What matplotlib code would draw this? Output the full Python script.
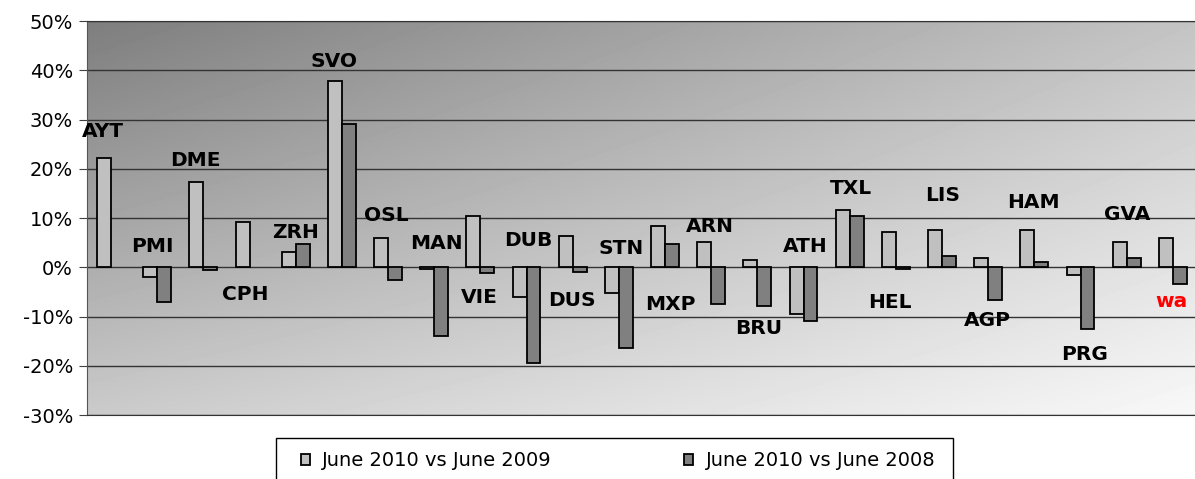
import numpy as np
import matplotlib.pyplot as plt
from matplotlib.patches import Rectangle
from matplotlib.ticker import FuncFormatter

airports = ['AYT', 'PMI', 'DME', 'CPH', 'ZRH', 'SVO', 'OSL', 'MAN', 'VIE', 'DUB', 'DUS', 'STN',
            'MXP', 'ARN', 'BRU', 'ATH', 'TXL', 'HEL', 'LIS', 'AGP', 'HAM', 'PRG', 'GVA', 'wa']
vs2009 = [22.1, -2.0, 17.3, 9.2, 3.1, 37.9, 5.9, -0.3, 10.4, -6.1, 6.3, -5.3,
          8.4, 5.1, 1.5, -9.5, 11.6, 7.2, 7.5, 1.9, 7.5, -1.6, 5.2, 6.0]
vs2008 = [np.nan, -7.0, -0.5, np.nan, 4.7, 29.0, -2.6, -13.9, -1.2, -19.5, -0.9, -16.3,
          4.7, -7.5, -7.8, -11.0, 10.4, -0.3, 2.3, -6.6, 1.1, -12.6, 1.9, -3.4]
labels_2009 = 'June 2010 vs June 2009'
labels_2008 = 'June 2010 vs June 2008'

# manual label placement (category x, y in %)
label_x = [-0.15, 0.92, 1.84, 2.93, 4.02, 4.84, 5.98, 7.07, 8.0, 9.05, 10.0, 11.07,
           12.13, 12.99, 14.05, 15.05, 16.04, 16.89, 18.04, 19.01, 20.01, 21.1, 22.03, 23.0]
label_y = [27.5, 4.2, 21.6, -5.6, 7.1, 41.7, 10.6, 4.85, -6.2, 5.5, -6.65, 3.85,
           -7.5, 8.25, -12.4, 4.3, 16.0, -7.1, 14.5, -10.85, 13.2, -17.8, 10.8, -7.0]

fig = plt.figure(figsize=(11.95, 4.79), dpi=100)
ax = fig.add_axes([0.0728, 0.1336, 0.9272, 0.8225])

n = len(airports)
x = np.arange(n)
w = 0.3

# diagonal grey gradient background (bilinear between corner greys)
tl, tr, bl, br = 126, 196, 202, 248
u = np.linspace(0, 1, 300)[None, :]
v = np.linspace(0, 1, 120)[:, None]
grad = (tl * (1 - u) * (1 - v) + tr * u * (1 - v) + bl * (1 - u) * v + br * u * v) / 255.0
ax.imshow(grad, cmap='gray', vmin=0, vmax=1, interpolation='bilinear',
          extent=(-0.5, n - 0.5, -30, 50), aspect='auto', zorder=0)

ax.bar(x - w / 2 + 0.02, vs2009, w, color='#c0c0c0', edgecolor='black', linewidth=1.3,
       label=labels_2009, zorder=3)
ax.bar(x + w / 2 + 0.02, vs2008, w, color='#808080', edgecolor='black', linewidth=1.3,
       label=labels_2008, zorder=3)

for i, name in enumerate(airports):
    ax.text(label_x[i], label_y[i], name, ha='center', va='center', fontsize=14.5,
            fontweight='bold', color='red' if name == 'wa' else 'black', zorder=4)

ax.set_xlim(-0.5, n - 0.5)
ax.set_ylim(-30, 50)
ax.set_yticks(range(-30, 51, 10))
ax.yaxis.set_major_formatter(FuncFormatter(lambda v, p: '%d%%' % v))
ax.tick_params(axis='y', labelsize=14, length=6, color='#404040', pad=4)
ax.set_xticks([])
ax.grid(axis='y', color='#333333', linewidth=1, zorder=1)
ax.spines['right'].set_visible(False)
ax.spines['left'].set_color('#555555')
ax.spines['top'].set_color('#333333')
ax.spines['bottom'].set_color('#333333')

# legend box
fig.add_artist(Rectangle((276 / 1195, -0.01), 677 / 1195, 46 / 479, transform=fig.transFigure,
                         facecolor='white', edgecolor='black', linewidth=1))
fig.legend(loc='center', bbox_to_anchor=(618 / 1195, 0.0376), ncol=2, frameon=False,
           handlelength=0.45, handleheight=0.45, handletextpad=0.65, columnspacing=6.8,
           prop={'size': 14})

fig.savefig('out.png', dpi=100)
